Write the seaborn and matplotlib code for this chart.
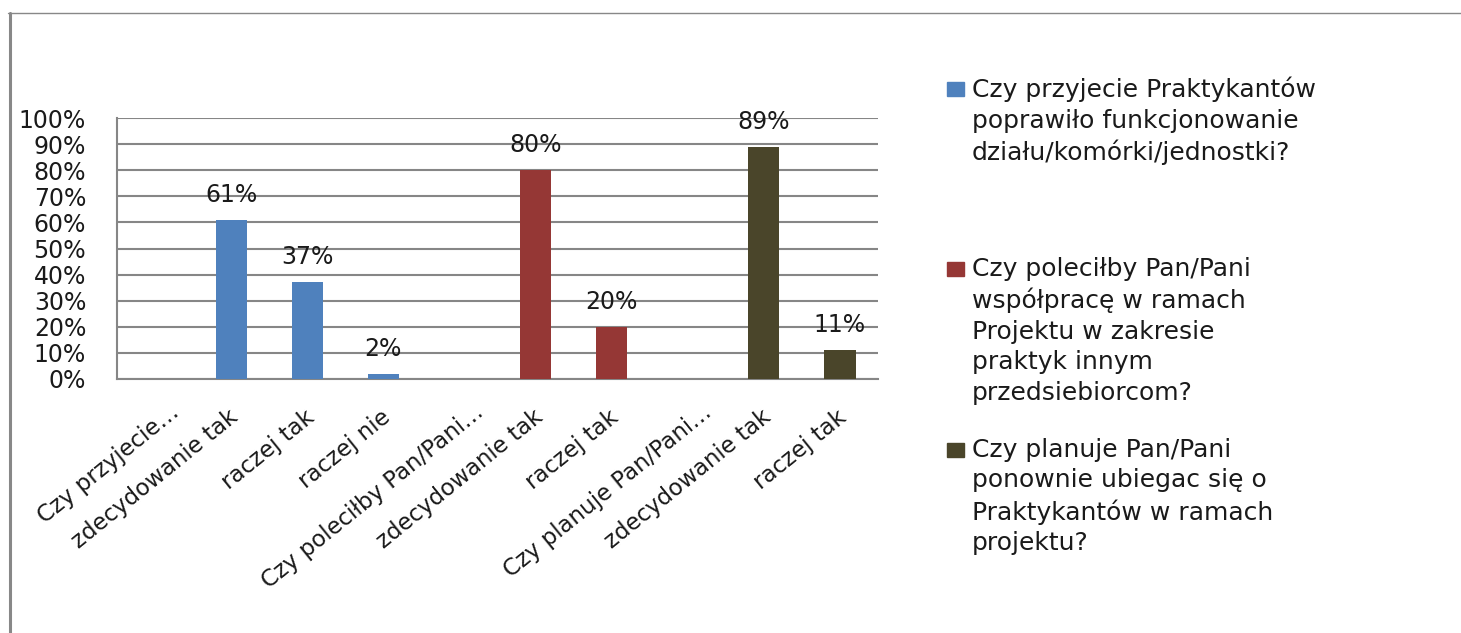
import numpy as np
import pandas as pd
import seaborn as sns
import matplotlib.pyplot as plt
from matplotlib.lines import Line2D
from matplotlib.patches import Rectangle
from matplotlib.transforms import ScaledTranslation

sns.set_style("white")
plt.rcParams['font.family'] = ['DejaVu Sans']

# ----- data
categories = ["Czy przyjecie…", "zdecydowanie tak", "raczej tak", "raczej nie",
              "Czy poleciłby Pan/Pani…", "zdecydowanie tak", "raczej tak",
              "Czy planuje Pan/Pani…", "zdecydowanie tak", "raczej tak"]
values = [np.nan, 61, 37, 2, np.nan, 80, 20, np.nan, 89, 11]
series = ["s1", "s1", "s1", "s1", "s2", "s2", "s2", "s3", "s3", "s3"]
series_names = ["s1", "s2", "s3"]
legend_labels = [
    "Czy przyjecie Praktykantów\npoprawiło funkcjonowanie\ndziału/komórki/jednostki?",
    "Czy poleciłby Pan/Pani\nwspółpracę w ramach\nProjektu w zakresie\npraktyk innym\nprzedsiebiorcom?",
    "Czy planuje Pan/Pani\nponownie ubiegac się o\nPraktykantów w ramach\nprojektu?",
]
colors = ["#4F81BD", "#953735", "#4A452A"]

W, H = 1461, 633
GRAY = "#868686"
TXT = "#1a1a1a"

df = pd.DataFrame({"pos": range(len(categories)), "value": values, "series": series})

fig = plt.figure(figsize=(W / 100, H / 100), dpi=100)
ax = fig.add_axes([117 / W, 1 - 379 / H, (878 - 117) / W, (379 - 118) / H])

sns.barplot(data=df, x="pos", y="value", hue="series", order=list(range(10)),
            hue_order=series_names, palette=colors, dodge=False, width=0.41,
            saturation=1, errorbar=None, legend=False, ax=ax, zorder=3,
            linewidth=0)

ax.set_xlim(-0.5, 9.5)
ax.set_ylim(0, 100)
ax.set_yticks(range(0, 101, 10))
ax.set_yticklabels([f"{v}%" for v in range(0, 101, 10)], fontsize=17, color=TXT)
ax.yaxis.grid(True, color=GRAY, linewidth=1.5, zorder=0)
ax.set_axisbelow(True)
ax.tick_params(axis="y", length=7.2, width=1.5, color=GRAY, pad=15)

ax.set_xticks(range(10))
ax.set_xticklabels(categories, rotation=39, ha="right", rotation_mode="anchor",
                   fontsize=16.5, color=TXT)
ax.tick_params(axis="x", which="major", length=0, pad=19)
for lab in ax.get_xticklabels():
    # truncated labels sit a little further right/up, as in the original
    if lab.get_text().endswith("…"):
        off = ScaledTranslation(14 / 100, 5 / 100, fig.dpi_scale_trans)
    else:
        off = ScaledTranslation(-3 / 100, 0, fig.dpi_scale_trans)
    lab.set_transform(lab.get_transform() + off)
ax.set_xticks(np.arange(-0.5, 10, 1), minor=True)
ax.tick_params(axis="x", which="minor", length=6.5, width=1.5, color=GRAY)
ax.set_xlabel("")
ax.set_ylabel("")

for side in ["top", "right"]:
    ax.spines[side].set_visible(False)
for side in ["left", "bottom"]:
    ax.spines[side].set_color(GRAY)
    ax.spines[side].set_linewidth(1.5)

# data labels
for p, v in zip(df["pos"], df["value"]):
    if not np.isnan(v):
        ax.annotate(f"{int(v)}%", (p, v), xytext=(0, 13), textcoords="offset points",
                    ha="center", va="baseline", fontsize=17, color=TXT)

# outer frame
fig.add_artist(Line2D([9.5 / W, 9.5 / W], [0, 1 - 13 / H], transform=fig.transFigure,
                      color="#888888", lw=2.2))
fig.add_artist(Line2D([8 / W, 1], [1 - 13 / H, 1 - 13 / H], transform=fig.transFigure,
                      color="#888888", lw=1))

# legend
legend_top = [77, 257, 438]
for lab, col, yt in zip(legend_labels, colors, legend_top):
    fig.add_artist(Rectangle((947 / W, 1 - (yt + 19) / H), 17 / W, 14 / H,
                             transform=fig.transFigure, color=col))
    fig.text(972 / W, 1 - yt / H, lab, fontsize=18, color=TXT, va="top",
             ha="left", linespacing=1.34)

fig.savefig("out.png", dpi=100)
